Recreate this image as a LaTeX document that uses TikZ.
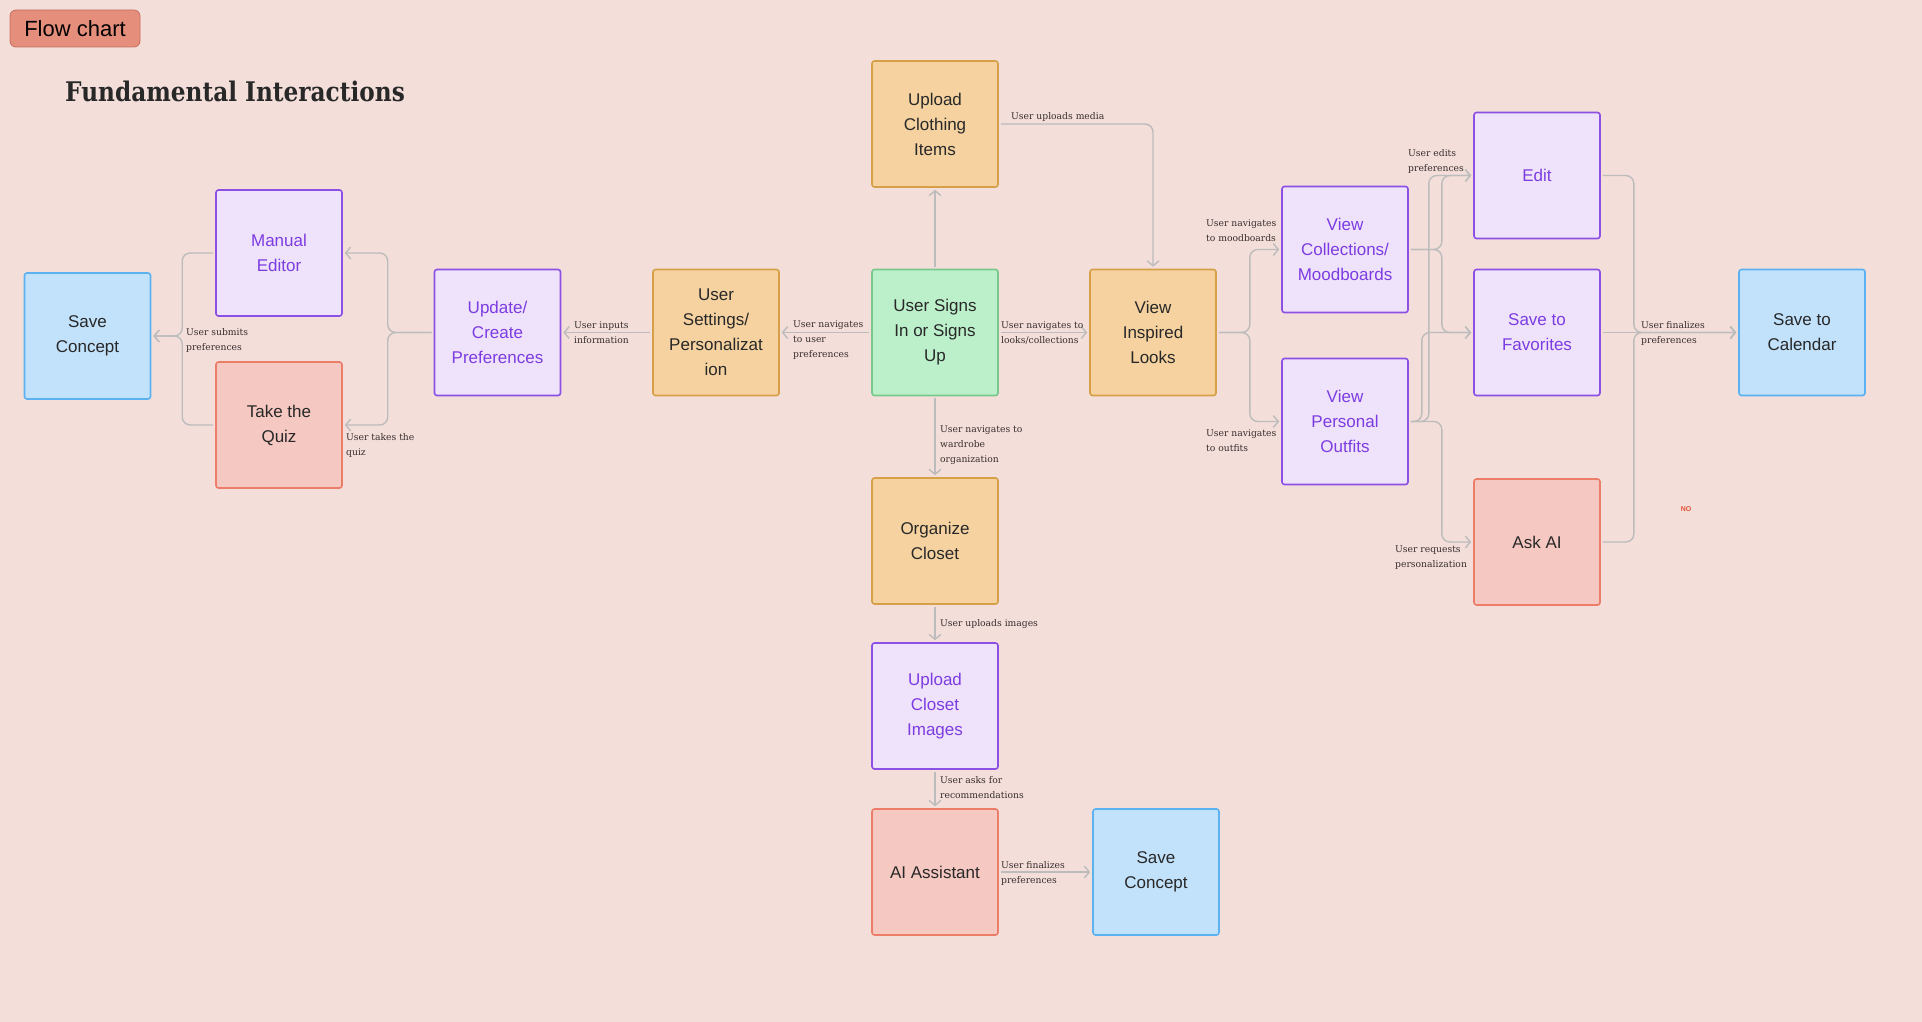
\documentclass[tikz,border=0pt]{standalone}
\usepackage{fontspec}
\setmainfont{DejaVu Serif}
\setsansfont{Liberation Sans}
\newfontfamily\titlefont[FakeStretch=0.86]{DejaVu Serif}
\usetikzlibrary{arrows.meta, positioning}
\definecolor{bgPink}   {RGB}{243,222,218}
\definecolor{orFill}   {RGB}{245,210,160}
\definecolor{orLine}   {RGB}{214,160, 72}
\definecolor{grFill}   {RGB}{188,240,202}
\definecolor{grLine}   {RGB}{120,200,140}
\definecolor{puFill}   {RGB}{238,227,250}
\definecolor{puLine}   {RGB}{140, 80,228}
\definecolor{puText}   {RGB}{125, 60,225}
\definecolor{rdFill}   {RGB}{245,200,193}
\definecolor{rdLine}   {RGB}{236,125,105}
\definecolor{blFill}   {RGB}{194,225,250}
\definecolor{blLine}   {RGB}{ 92,178,240}
\definecolor{tagFill}  {RGB}{229,142,124}
\definecolor{tagLine}  {RGB}{200,110, 95}
\definecolor{linkGray} {RGB}{188,188,188}
\definecolor{inkDark}  {RGB}{ 40, 40, 40}
\definecolor{lblInk}   {RGB}{ 55, 45, 45}
\definecolor{noRed}    {RGB}{230, 80, 50}

\begin{document}
\begin{tikzpicture}[
  x=1pt, y=-1pt,
  box/.style={rectangle, rounded corners=2.5pt, minimum width=126pt,
    minimum height=126pt, line width=1.6pt, align=center, inner sep=0pt,
    font=\sffamily\fontsize{17}{25}\selectfont},
  orbox/.style={box, fill=orFill, draw=orLine, text=inkDark},
  grbox/.style={box, fill=grFill, draw=grLine, text=inkDark},
  pubox/.style={box, fill=puFill, draw=puLine, text=puText},
  rdbox/.style={box, fill=rdFill, draw=rdLine, text=inkDark},
  blbox/.style={box, fill=blFill, draw=blLine, text=inkDark},
  link/.style={draw=linkGray, line width=1.4pt,
    -{Straight Barb[length=5pt,width=12pt]}, shorten >=2pt, shorten <=2pt},
  bracket/.style={link, rounded corners=8pt},
  lbl/.style={anchor=west, align=left, inner sep=0pt, text=lblInk,
    font=\fontsize{9.2}{15}\selectfont},
]

%% ── Canvas ───────────────────────────────────────────────────────────────────
\fill[bgPink] (0,0) rectangle (1922,1022);
\useasboundingbox (0,0) rectangle (1922,1022);

%% ── Tag and title ────────────────────────────────────────────────────────────
\node[rectangle, rounded corners=6pt, fill=tagFill, draw=tagLine, line width=0.8pt,
      minimum width=130pt, minimum height=37pt, inner sep=0pt,
      font=\sffamily\fontsize{22}{22}\selectfont, text=black]
  (TAG) at (75, 28.5) {Flow chart};

\node[anchor=base west, inner sep=0pt, text=inkDark,
      font=\titlefont\bfseries\fontsize{27}{27}\selectfont]
  (TITLE) at (65, 102) {Fundamental Interactions};

%% ── Left branch: preferences ─────────────────────────────────────────────────
\node[blbox] (SAVE1) at (87.5, 336)   {Save\\Concept};
\node[pubox] (MAN)   at (279, 253)    {Manual\\Editor};
\node[rdbox] (QUIZ)  at (279, 425)    {Take the\\Quiz};
\node[pubox] (PREF)  at (497.5, 332.5) {Update/\\Create\\Preferences};
\node[orbox] (SET)   at (716, 332.5)  {User\\Settings/\\Personalizat\\ion};

%% ── Centre column ────────────────────────────────────────────────────────────
\node[grbox] (SIGN)  at (935, 332.5)  {User Signs\\In or Signs\\Up};
\node[orbox] (UPCL)  at (935, 124)    {Upload\\Clothing\\Items};
\node[orbox] (ORG)   at (935, 541)    {Organize\\Closet};
\node[pubox] (UPIM)  at (935, 706)    {Upload\\Closet\\Images};
\node[rdbox] (AIA)   at (935, 872)    {AI Assistant};
\node[blbox] (SAVE2) at (1156, 872)   {Save\\Concept};

%% ── Right branch: looks ──────────────────────────────────────────────────────
\node[orbox] (LOOK)  at (1153, 332.5) {View\\Inspired\\Looks};
\node[pubox] (COLL)  at (1345, 249.5) {View\\Collections/\\Moodboards};
\node[pubox] (OUTF)  at (1345, 421.5) {View\\Personal\\Outfits};
\node[pubox] (EDIT)  at (1537, 175.5) {Edit};
\node[pubox] (FAV)   at (1537, 332.5) {Save to\\Favorites};
\node[rdbox] (ASK)   at (1537, 542)   {Ask AI};
\node[blbox] (CAL)   at (1802, 332.5) {Save to\\Calendar};

\node[font=\sffamily\bfseries\fontsize{7}{7}\selectfont, text=noRed, inner sep=0pt]
  (NO) at (1686, 509) {NO};

%% ── Connectors ───────────────────────────────────────────────────────────────
\draw[bracket] (MAN.west)  -- ++(-33,0) |- (SAVE1.east);
\draw[bracket] (QUIZ.west) -- ++(-33,0) |- (SAVE1.east);
\draw[bracket] (PREF.west) -- ++(-46,0) |- (MAN.east);
\draw[bracket] (PREF.west) -- ++(-46,0) |- (QUIZ.east);
\draw[link] (SET.west)  -- (PREF.east);
\draw[link] (SIGN.west) -- (SET.east);

\draw[link] (SIGN.north) -- (UPCL.south);
\draw[bracket] (UPCL.east) -| (LOOK.north);
\draw[link] (SIGN.east)  -- (LOOK.west);
\draw[link] (SIGN.south) -- (ORG.north);
\draw[link] (ORG.south)  -- (UPIM.north);
\draw[link] (UPIM.south) -- (AIA.north);
\draw[link] (AIA.east)   -- (SAVE2.west);

\draw[bracket] (LOOK.east) -- ++(33,0) |- (COLL.west);
\draw[bracket] (LOOK.east) -- ++(33,0) |- (OUTF.west);
\draw[bracket] (COLL.east) -- ++(33,0) |- (EDIT.west);
\draw[bracket] (COLL.east) -- ++(33,0) |- (FAV.west);
\draw[bracket] (OUTF.east) -- ++(20,0) |- (EDIT.west);
\draw[bracket] (OUTF.east) -- ++(13,0) |- (FAV.west);
\draw[bracket] (OUTF.east) -- ++(33,0) |- (ASK.west);
\draw[bracket] (EDIT.east) -- ++(33,0) |- (CAL.west);
\draw[link] (FAV.east) -- (CAL.west);
\draw[bracket] (ASK.east)  -- ++(33,0) |- (CAL.west);

%% ── Connector labels ─────────────────────────────────────────────────────────
\node[lbl] (L1)  at (186, 340)  {User submits\\preferences};
\node[lbl] (L2)  at (346, 445)  {User takes the\\quiz};
\node[lbl] (L3)  at (574, 333)  {User inputs\\information};
\node[lbl] (L4)  at (793, 340)  {User navigates\\to user\\preferences};
\node[lbl] (L5)  at (1011, 117) {User uploads media};
\node[lbl] (L6)  at (1001, 333) {User navigates to\\looks/collections};
\node[lbl] (L7)  at (940, 445)  {User navigates to\\wardrobe\\organization};
\node[lbl] (L8)  at (940, 624)  {User uploads images};
\node[lbl] (L9)  at (940, 788)  {User asks for\\recommendations};
\node[lbl] (L10) at (1001, 873) {User finalizes\\preferences};
\node[lbl] (L11) at (1206, 231) {User navigates\\to moodboards};
\node[lbl] (L12) at (1206, 441) {User navigates\\to outfits};
\node[lbl] (L13) at (1408, 161) {User edits\\preferences};
\node[lbl] (L14) at (1395, 558) {User requests\\personalization};
\node[lbl] (L15) at (1641, 333) {User finalizes\\preferences};

\end{tikzpicture}
\end{document}
